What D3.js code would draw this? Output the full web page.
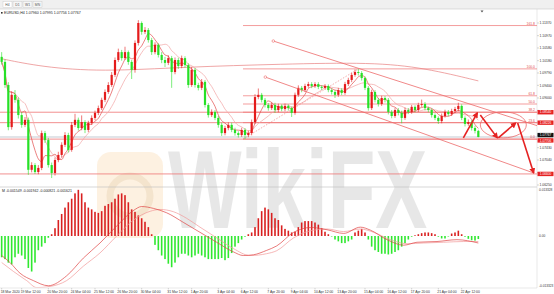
<!DOCTYPE html>
<html>
<head>
<meta charset="utf-8">
<script src="https://cdn.jsdelivr.net/npm/d3@7"></script>
<style>
body{margin:0;background:#fff}
svg{display:block;font-family:"Liberation Sans",Arial,sans-serif}
</style>
</head>
<body>
<svg width="554" height="294"></svg>
<script>
// EURUSD H4 candles (o/h/l/c)
var opens = [1.1030,1.1014,1.0941,1.0808,1.0910,1.0894,1.0846,1.0815,1.0831,1.0673,
1.0688,1.0666,1.0679,1.0789,1.0767,1.0688,1.0663,1.0704,1.0720,1.0752,
1.0783,1.0736,1.0815,1.0831,1.0805,1.0824,1.0799,1.0821,1.0837,1.0853,
1.0868,1.0894,1.0919,1.0941,1.0973,1.1020,1.1045,1.1026,1.1045,1.1014,
1.0989,1.1074,1.1137,1.1109,1.1115,1.1083,1.1045,1.1068,1.1036,1.1020,
1.1011,1.1026,1.0982,1.1020,1.1001,1.1026,1.1004,1.0941,1.0989,1.0941,
1.0932,1.0951,1.0878,1.0846,1.0856,1.0837,1.0815,1.0789,1.0805,1.0815,
1.0799,1.0789,1.0783,1.0799,1.0783,1.0789,1.0824,1.0903,1.0910,1.0894,
1.0878,1.0868,1.0878,1.0862,1.0875,1.0865,1.0875,1.0868,1.0853,1.0910,
1.0932,1.0925,1.0938,1.0944,1.0938,1.0944,1.0935,1.0932,1.0938,1.0925,
1.0919,1.0910,1.0925,1.0916,1.0944,1.0957,1.0973,1.0982,1.0979,1.0963,
1.0932,1.0868,1.0919,1.0894,1.0881,1.0900,1.0894,1.0856,1.0843,1.0862,
1.0853,1.0837,1.0862,1.0856,1.0872,1.0862,1.0878,1.0881,1.0868,1.0862,
1.0846,1.0837,1.0827,1.0843,1.0856,1.0849,1.0859,1.0865,1.0875,1.0837,
1.0818,1.0824,1.0805,1.07960];
var highs = [1.1045,1.1022,1.0950,1.0921,1.0925,1.0902,1.0855,1.0840,1.0838,1.0697,
1.0694,1.0688,1.0797,1.0796,1.0774,1.0696,1.0712,1.0730,1.0760,1.0792,
1.0790,1.0824,1.0850,1.0838,1.0845,1.0830,1.0828,1.0845,1.0860,1.0876,
1.0901,1.0927,1.0950,1.0982,1.1028,1.1056,1.1052,1.1062,1.1050,1.1020,
1.1082,1.1146,1.1142,1.1124,1.1121,1.1090,1.1076,1.1073,1.1045,1.1030,
1.1035,1.1033,1.1028,1.1027,1.1034,1.1032,1.1010,1.0998,1.0995,1.0948,
1.0960,1.0957,1.0884,1.0864,1.0862,1.0843,1.0822,1.0812,1.0823,1.0822,
1.0806,1.0795,1.0806,1.0805,1.0797,1.0832,1.0912,1.0930,1.0916,1.0900,
1.0884,1.0886,1.0885,1.0882,1.0880,1.0882,1.0880,1.0873,1.0917,1.0940,
1.0938,1.0945,1.0951,1.0950,1.0950,1.0950,1.0940,1.0944,1.0943,1.0930,
1.0924,1.0932,1.0931,1.0951,1.0964,1.0980,1.0990,1.0992,1.0985,1.0968,
1.0938,1.0926,1.0925,1.0900,1.0907,1.0906,1.0900,1.0862,1.0868,1.0868,
1.0860,1.0870,1.0868,1.0878,1.0877,1.0885,1.0895,1.0887,1.0873,1.0867,
1.0851,1.0842,1.0851,1.0863,1.0862,1.0866,1.0872,1.0885,1.0880,1.0842,
1.0832,1.0830,1.0812,1.07995];
var lows = [1.1005,1.0932,1.0798,1.0800,1.0885,1.0835,1.0806,1.0808,1.0657,1.0665,
1.0660,1.0659,1.0672,1.0758,1.0680,1.0647,1.0655,1.0697,1.0712,1.0745,
1.0728,1.0730,1.0808,1.0797,1.0798,1.0789,1.0792,1.0815,1.0830,1.0846,
1.0862,1.0887,1.0913,1.0935,1.0966,1.1014,1.1018,1.1020,1.1005,1.0960,
1.0980,1.1066,1.1100,1.1102,1.1075,1.1036,1.1038,1.1028,1.1010,1.0998,
1.1004,1.0932,1.0975,1.0992,1.0994,1.0996,1.0932,1.0935,1.0933,1.0924,
1.0925,1.0870,1.0838,1.0840,1.0830,1.0806,1.0780,1.0782,1.0798,1.0792,
1.0781,1.0775,1.0777,1.0770,1.0776,1.0782,1.0818,1.0896,1.0886,1.0870,
1.0860,1.0862,1.0853,1.0855,1.0858,1.0858,1.0860,1.0840,1.0847,1.0904,
1.0918,1.0919,1.0932,1.0931,1.0932,1.0928,1.0925,1.0926,1.0918,1.0911,
1.0900,1.0904,1.0909,1.0910,1.0938,1.0950,1.0967,1.0971,1.0955,1.0925,
1.0860,1.0862,1.0886,1.0873,1.0875,1.0886,1.0848,1.0836,1.0837,1.0845,
1.0820,1.0831,1.0849,1.0850,1.0855,1.0856,1.0872,1.0861,1.0855,1.0838,
1.0830,1.0818,1.0820,1.0838,1.0842,1.0843,1.0853,1.0858,1.0830,1.0810,
1.0812,1.0797,1.0788,1.07756];
var closes = [1.1014,1.0941,1.0808,1.0910,1.0894,1.0846,1.0815,1.0831,1.0673,1.0688,
1.0666,1.0679,1.0789,1.0767,1.0688,1.0663,1.0704,1.0720,1.0752,1.0783,
1.0736,1.0815,1.0831,1.0805,1.0824,1.0799,1.0821,1.0837,1.0853,1.0868,
1.0894,1.0919,1.0941,1.0973,1.1020,1.1045,1.1026,1.1045,1.1014,1.0989,
1.1074,1.1137,1.1109,1.1115,1.1083,1.1045,1.1068,1.1036,1.1020,1.1011,
1.1026,1.0982,1.1020,1.1001,1.1026,1.1004,1.0941,1.0989,1.0941,1.0932,
1.0951,1.0878,1.0846,1.0856,1.0837,1.0815,1.0789,1.0805,1.0815,1.0799,
1.0789,1.0783,1.0799,1.0783,1.0789,1.0824,1.0903,1.0910,1.0894,1.0878,
1.0868,1.0878,1.0862,1.0875,1.0865,1.0875,1.0868,1.0853,1.0910,1.0932,
1.0925,1.0938,1.0944,1.0938,1.0944,1.0935,1.0932,1.0938,1.0925,1.0919,
1.0910,1.0925,1.0916,1.0944,1.0957,1.0973,1.0982,1.0979,1.0963,1.0932,
1.0868,1.0919,1.0894,1.0881,1.0900,1.0894,1.0856,1.0843,1.0862,1.0853,
1.0837,1.0862,1.0856,1.0872,1.0862,1.0878,1.0881,1.0868,1.0862,1.0846,
1.0837,1.0827,1.0843,1.0856,1.0849,1.0859,1.0865,1.0875,1.0837,1.0818,
1.0824,1.0805,1.0796,1.07767];

// MACD histogram, one value per candle
var macdHist = [-0.00578,-0.00627,-0.00723,-0.00771,-0.00578,-0.00482,-0.00530,-0.00627,-0.00868,-0.00964,
-0.00723,-0.00386,-0.00289,-0.00193,-0.00048,0.00048,0.00212,0.00434,0.00598,0.00771,
0.00916,0.01012,0.01157,0.01253,0.01157,0.00916,0.00771,0.00723,0.00656,0.00627,
0.00675,0.00819,0.00868,0.00916,0.01012,0.01128,0.01157,0.01109,0.00916,0.00723,
0.00656,0.00559,0.00482,0.00386,0.00241,0.00048,-0.00241,-0.00386,-0.00530,-0.00627,
-0.00752,-0.00848,-0.00723,-0.00578,-0.00482,-0.00482,-0.00530,-0.00578,-0.00530,-0.00482,
-0.00530,-0.00578,-0.00627,-0.00627,-0.00627,-0.00627,-0.00598,-0.00656,-0.00598,-0.00463,
-0.00289,-0.00193,-0.00096,-0.00019,0.00048,0.00096,0.00241,0.00482,0.00675,0.00771,
0.00723,0.00627,0.00482,0.00434,0.00289,0.00193,0.00145,0.00096,0.00116,0.00241,
0.00366,0.00405,0.00405,0.00405,0.00366,0.00308,0.00212,0.00116,0.00048,-0.00010,
-0.00096,-0.00145,-0.00193,-0.00193,-0.00145,-0.00096,0.00096,0.00145,0.00193,0.00096,
-0.00096,-0.00289,-0.00386,-0.00434,-0.00482,-0.00482,-0.00501,-0.00482,-0.00434,-0.00386,
-0.00289,-0.00193,-0.00096,-0.00019,0.00019,0.00048,0.00077,0.00096,0.00096,0.00077,
0.00048,-0.00019,-0.00067,-0.00067,-0.00010,0.00067,0.00096,0.00145,0.00048,-0.00019,
-0.00077,-0.00116,-0.00125,-0.000821];

// MACD lines, read at the bars where they bend
var macdAIdx = [0,2.5,5.5,9.5,14,19.5,24.5,29.5,34.5,39.5,42,45.5,49.5,54.5,59.5,64.5,69.5,72.5,75.5,79.5,82.5,87.6,92.6,97.6,102.6,107.6,110.6,115.6,120.6,124.6,130.6,136.6,143];
var macdAVal = [-0.0053,-0.0072,-0.0101,-0.0121,-0.0135,-0.0108,-0.0060,-0.0019,0.0027,0.0069,0.0080,0.0075,0.0063,0.0037,0.0010,-0.0017,-0.0043,-0.0053,-0.0051,-0.0039,-0.0027,0.0010,0.0023,0.0017,0.0007,0.0024,0.0016,-0.0010,-0.0025,-0.0017,-0.0015,-0.0010,-0.0019];
var macdBIdx = [0,3.5,7.5,10.5,14.5,19.5,24.5,29.5,34.5,39.5,44.5,47.5,51.5,55.5,59.5,64.5,69.5,74.5,79.5,82.5,87.6,92.6,97.6,102.6,107.6,111.6,116.6,121.6,126.6,132.6,138.6,143];
var macdBVal = [-0.0072,-0.0096,-0.0121,-0.0140,-0.0137,-0.0121,-0.0082,-0.0046,0.0000,0.0043,0.0067,0.0072,0.0066,0.0048,0.0024,-0.0005,-0.0034,-0.0053,-0.0048,-0.0040,-0.0005,0.0014,0.0019,0.0012,0.0019,0.0010,-0.0010,-0.0021,-0.0019,-0.0017,-0.0015,-0.0015];

// slow moving average
var slowMaIdx = [0,12,30,55,84,111,127,143];
var slowMaVal = [1.1024,1.0998,1.0983,1.0998,1.1007,1.1013,1.0995,1.0954];

var priceTicks = [1.1137,1.1097,1.1058,1.1018,1.0979,1.0940,1.0900,1.0861,1.0822,1.0782,1.0743,1.0704,1.0664,1.0625];
var fibLabels = ["0.0","23.6","38.2","50.0","61.8","100.0","161.8"];
var fibPrices = [1.0770,1.0822,1.0855,1.0881,1.0907,1.0992,1.1129];
var fibAnchor = [[72.4,1.0770],[107,1.0992]];
var levelPrices = [1.0855,1.0822,1.0770,1.0660];
var levelTexts = ["1.08540","1.08226","1.07706","1.06600"];
var trendLines = [[[81.5,1.1080],[160.8,1.0812]],[[79.1,1.0966],[159.6,1.0663]]];
var arrows = [[[138.5,1.0774],[142.7,1.0853]],[[143.6,1.0846],[148.7,1.0774]],[[149,1.0774],[154.2,1.0821]],[[154.8,1.0821],[159.6,1.0663]]];
var ellipseBox = [[143.6,1.0856],[157.4,1.0774]];

var timeIdx = [0,6,14,21,28,35,42,50,57,65,72,80,87,94,101,109,116,123,131,138];
var timeText = ["18 Mar 2020","19 Mar 12:00","20 Mar 20:00","24 Mar 04:00","25 Mar 12:00","26 Mar 20:00","30 Mar 04:00","31 Mar 12:00","1 Apr 20:00","3 Apr 04:00","6 Apr 12:00","7 Apr 20:00","9 Apr 04:00","10 Apr 12:00","13 Apr 20:00","15 Apr 04:00","16 Apr 12:00","17 Apr 20:00","21 Apr 04:00","22 Apr 12:00"];

var macdTicks = [0.0133,0,-0.0133];
var macdTickText = ["0.013328","0.00","-0.013323"];

window.onload = function() {
  var svg = d3.select("svg");
  var N = closes.length;
  var right = 537;

  var x = d3.scaleLinear().domain([-0.5, N - 0.5]).range([0, 480]);
  var y = d3.scaleLinear().domain([1.0625, 1.1137]).range([185, 23]);
  var ym = d3.scaleLinear().domain([-0.0133, 0.0133]).range([285, 187]);

  var defs = svg.append("defs");
  defs.append("clipPath").attr("id","mainclip").append("rect")
    .attr("x",0).attr("y",9.5).attr("width",right).attr("height",177);
  defs.append("clipPath").attr("id","macdclip").append("rect")
    .attr("x",0).attr("y",187.5).attr("width",right).attr("height",100);
  defs.append("marker").attr("id","ah").attr("viewBox","0 0 10 10")
    .attr("refX",8).attr("refY",5).attr("markerWidth",6).attr("markerHeight",6)
    .attr("markerUnits","userSpaceOnUse").attr("orient","auto")
    .append("path").attr("d","M0,0 L10,5 L0,10 z").attr("fill","#e52222");

  // watermark (drawn first, under the chart)
  var wm = svg.append("g").attr("pointer-events","none");
  wm.append("rect").attr("x",97).attr("y",152).attr("width",66).attr("height",86).attr("rx",14)
    .attr("fill","#f6c98a").attr("opacity",0.26);
  wm.append("circle").attr("cx",130).attr("cy",196).attr("r",20)
    .attr("fill","none").attr("stroke","#d8b48a").attr("stroke-width",7).attr("opacity",0.22);
  wm.append("text").attr("transform","translate(168,228) scale(1,1.42)")
    .attr("font-size",78).attr("font-weight","bold")
    .attr("fill","#000").attr("opacity",0.09).text("WikiFX");

  // toolbar
  svg.append("rect").attr("width",554).attr("height",9).attr("fill","#f0f0f0");
  svg.append("line").attr("x1",0).attr("x2",554).attr("y1",9).attr("y2",9).attr("stroke","#c9c9c9").attr("stroke-width",0.6);
  ["H4","D1","W1","MN"].forEach(function(t,i){
    svg.append("rect").attr("x",3+i*10).attr("y",1.5).attr("width",9).attr("height",6)
      .attr("fill", i==0 ? "#fff" : "#f6f6f6").attr("stroke","#c4c4c4").attr("stroke-width",0.4);
    svg.append("text").attr("x",7.5+i*10).attr("y",5.8).attr("text-anchor","middle")
      .attr("font-size",3.4).attr("fill","#555").text(t);
  });

  svg.append("rect").attr("x",1).attr("y",12).attr("width",1.6).attr("height",1.6).attr("fill","#333");
  svg.append("text").attr("x",4).attr("y",14.2).attr("font-size",3.6).attr("fill","#222")
    .text("EURUSD,H4  1.07960 1.07995 1.07756 1.07767");

  // panel borders
  svg.append("line").attr("x1",0).attr("x2",right).attr("y1",187).attr("y2",187).attr("stroke","#bdbdbd").attr("stroke-width",0.6);
  svg.append("line").attr("x1",right).attr("x2",right).attr("y1",9).attr("y2",288).attr("stroke","#d0d0d0").attr("stroke-width",0.5);
  svg.append("line").attr("x1",0).attr("x2",right).attr("y1",288).attr("y2",288).attr("stroke","#d0d0d0").attr("stroke-width",0.5);

  var main = svg.append("g").attr("clip-path","url(#mainclip)");
  var red = "#e41b1b", green = "#27e027", lineRed = "#ef7474";

  // fibonacci
  main.selectAll("line.fib").data(fibPrices).enter().append("line")
    .attr("x1", x(fibAnchor[0][0])).attr("x2", right)
    .attr("y1", function(d){return y(d);}).attr("y2", function(d){return y(d);})
    .attr("stroke", lineRed).attr("stroke-width",0.7);
  main.append("line")
    .attr("x1",x(fibAnchor[0][0])).attr("y1",y(fibAnchor[0][1]))
    .attr("x2",x(fibAnchor[1][0])).attr("y2",y(fibAnchor[1][1]))
    .attr("stroke",lineRed).attr("stroke-width",0.6).attr("stroke-dasharray","1.5,1.5");
  svg.selectAll("text.fib").data(fibPrices).enter().append("text")
    .attr("x",535).attr("y",function(d){return y(d)-0.8;})
    .attr("text-anchor","end").attr("font-size",3.4).attr("fill","#e05050")
    .text(function(d,i){return fibLabels[i];});

  // horizontal levels
  main.selectAll("line.lvl").data(levelPrices).enter().append("line")
    .attr("x1",0).attr("x2",right)
    .attr("y1",function(d){return y(d);}).attr("y2",function(d){return y(d);})
    .attr("stroke",lineRed).attr("stroke-width",0.8);
  main.append("line").attr("x1",0).attr("x2",right)
    .attr("y1",y(closes[N-1])).attr("y2",y(closes[N-1]))
    .attr("stroke","#9aa6b4").attr("stroke-width",0.6);

  // slow MA
  main.append("path")
    .datum(slowMaIdx.map(function(d,i){return [d, slowMaVal[i]];}))
    .attr("d", d3.line().x(function(d){return x(d[0]);}).y(function(d){return y(d[1]);}).curve(d3.curveBasis))
    .attr("fill","none").attr("stroke","#e88080").attr("stroke-width",0.7);

  // fast MAs
  function sma(arr, n) {
    return arr.map(function(_, i){ return d3.mean(arr.slice(Math.max(0, i-n+1), i+1)); });
  }
  var ma5 = sma(closes, 5), ma10 = sma(closes, 10);
  var lineFn = d3.line().x(function(d,i){return x(i);}).y(function(d){return y(d);}).curve(d3.curveMonotoneX);
  main.append("path").datum(ma10).attr("d", lineFn).attr("fill","none").attr("stroke","#f2a3a3").attr("stroke-width",0.7);
  main.append("path").datum(ma5).attr("d", lineFn).attr("fill","none").attr("stroke","#e24a4a").attr("stroke-width",0.7);

  // candles
  var idx = d3.range(N);
  main.selectAll("line.wick").data(idx).enter().append("line")
    .attr("x1",function(i){return x(i);}).attr("x2",function(i){return x(i);})
    .attr("y1",function(i){return y(highs[i]);}).attr("y2",function(i){return y(lows[i]);})
    .attr("stroke",function(i){return closes[i] >= opens[i] ? red : green;}).attr("stroke-width",0.6);
  main.selectAll("rect.body").data(idx).enter().append("rect")
    .attr("x",function(i){return x(i)-1.1;}).attr("width",2.2)
    .attr("y",function(i){return y(Math.max(opens[i],closes[i]));})
    .attr("height",function(i){return Math.max(0.8, Math.abs(y(opens[i])-y(closes[i])));})
    .attr("fill",function(i){return closes[i] >= opens[i] ? red : green;});

  // trend lines
  trendLines.forEach(function(t){
    main.append("line").attr("x1",x(t[0][0])).attr("y1",y(t[0][1])).attr("x2",x(t[1][0])).attr("y2",y(t[1][1]))
      .attr("stroke","#ec6a6a").attr("stroke-width",0.8);
    main.append("circle").attr("cx",x(t[0][0])).attr("cy",y(t[0][1])).attr("r",1.3)
      .attr("fill","#fff").attr("stroke","#ec6a6a").attr("stroke-width",0.6);
  });

  // ellipse and arrows
  var ex0 = x(ellipseBox[0][0]), ex1 = x(ellipseBox[1][0]);
  var ey0 = y(ellipseBox[0][1]), ey1 = y(ellipseBox[1][1]);
  main.append("ellipse").attr("cx",(ex0+ex1)/2).attr("cy",(ey0+ey1)/2)
    .attr("rx",(ex1-ex0)/2).attr("ry",(ey1-ey0)/2)
    .attr("fill","none").attr("stroke","#ec6a6a").attr("stroke-width",0.8);
  arrows.forEach(function(a){
    main.append("line").attr("x1",x(a[0][0])).attr("y1",y(a[0][1])).attr("x2",x(a[1][0])).attr("y2",y(a[1][1]))
      .attr("stroke","#e52222").attr("stroke-width",1.6).attr("marker-end","url(#ah)");
  });

  // price axis: labels under a price box are hidden, as in the terminal
  var boxYs = levelPrices.concat([closes[N-1]]).map(function(p){return y(p);});
  var shownTicks = priceTicks.filter(function(p){
    return boxYs.every(function(b){return Math.abs(y(p)-b) > 4.5;});
  });
  svg.selectAll("text.pt").data(shownTicks).enter().append("text")
    .attr("x",539.5).attr("y",function(d){return y(d)+ (d === 1.0625 ? 0.6 : 1.2);})
    .attr("font-size",3.4).attr("fill","#333")
    .text(function(d){return d.toFixed(5);});
  svg.selectAll("line.pt").data(priceTicks).enter().append("line")
    .attr("x1",right).attr("x2",right+2).attr("y1",function(d){return y(d);}).attr("y2",function(d){return y(d);})
    .attr("stroke","#999").attr("stroke-width",0.4);

  // price boxes; the bid box sits just above the 0.0 level box
  var boxes = levelPrices.map(function(p,i){
    return {cy: y(p) + (p === 1.0770 ? 1.3 : 0), fill:"#e52222", text: levelTexts[i]};
  });
  boxes.push({cy: y(closes[N-1]) - 1.9, fill:"#111", text: closes[N-1].toFixed(5)});
  boxes.forEach(function(b){
    svg.append("rect").attr("x",537.5).attr("y",b.cy-2.2).attr("width",16).attr("height",4.4).attr("fill",b.fill);
    svg.append("text").attr("x",545.5).attr("y",b.cy+1.1).attr("text-anchor","middle")
      .attr("font-size",3.2).attr("fill","#fff").text(b.text);
  });

  svg.append("path").attr("d","M480.5,10.5 L483.5,10.5 L482,12.5 z").attr("fill","#555");

  // MACD panel
  var macd = svg.append("g").attr("clip-path","url(#macdclip)");
  macd.selectAll("rect.h").data(macdHist).enter().append("rect")
    .attr("x",function(d,i){return x(i)-0.8;}).attr("width",1.6)
    .attr("y",function(d){return Math.min(ym(d), ym(0));})
    .attr("height",function(d){return Math.max(0.5, Math.abs(ym(d)-ym(0)));})
    .attr("fill",function(d){return d >= 0 ? "#d92020" : "#30e830";});
  var mline = d3.line().x(function(d){return x(d[0]);}).y(function(d){return ym(d[1]);}).curve(d3.curveMonotoneX);
  macd.append("path").datum(macdBIdx.map(function(d,i){return [d, macdBVal[i]];}))
    .attr("d", mline).attr("fill","none").attr("stroke","#f29a9a").attr("stroke-width",0.7);
  macd.append("path").datum(macdAIdx.map(function(d,i){return [d, macdAVal[i]];}))
    .attr("d", mline).attr("fill","none").attr("stroke","#e04444").attr("stroke-width",0.7);

  svg.append("text").attr("x",2).attr("y",191.5).attr("font-size",3.5).attr("fill","#222")
    .text("M -0.001549 -0.001942 -0.000821 -0.001621");
  svg.selectAll("text.mt").data(macdTicks).enter().append("text")
    .attr("x",539).attr("y",function(d,i){return i == 0 ? 190.6 : (i == 2 ? 286.5 : ym(d)+1.2);})
    .attr("font-size",3.2).attr("fill","#333")
    .text(function(d,i){return macdTickText[i];});

  // time axis
  svg.selectAll("text.tt").data(timeIdx).enter().append("text")
    .attr("x",function(d){return x(d)-1;}).attr("y",292.5)
    .attr("font-size",3.4).attr("fill","#333")
    .text(function(d,i){return timeText[i];});
  svg.selectAll("line.tt").data(timeIdx).enter().append("line")
    .attr("x1",function(d){return x(d);}).attr("x2",function(d){return x(d);})
    .attr("y1",288).attr("y2",289.5).attr("stroke","#999").attr("stroke-width",0.4);
};
</script>
</body>
</html>
